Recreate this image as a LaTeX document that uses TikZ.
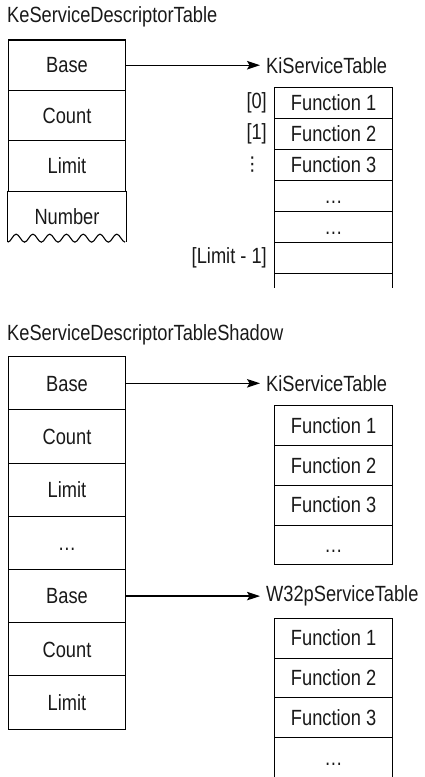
\documentclass[tikz,border=0pt]{standalone}
\usepackage{fontspec}
\setmainfont[FakeStretch=0.83]{Liberation Sans}
\newfontfamily\symfont{DejaVu Sans}
\usepackage{tikz}
\usetikzlibrary{arrows.meta}
\tikzstyle{cell}=[rectangle, draw=black, line width=1.1pt, minimum width=117.4pt, inner sep=0pt, text height=15.5pt, text depth=0pt]
\tikzstyle{desc}=[cell, minimum height=50.4pt]
\tikzstyle{shadow}=[cell, minimum height=53.2pt]
\tikzstyle{entry}=[cell, minimum height=30.9pt]
\tikzstyle{svc}=[cell, minimum height=39.8pt]
\tikzstyle{title}=[anchor=base west, inner sep=0pt]
\tikzstyle{tablename}=[anchor=west, inner xsep=6pt, inner ysep=0pt]
\tikzstyle{index}=[anchor=east, inner sep=0pt]
\tikzstyle{pointer}=[-{Stealth[length=13pt, width=8.5pt, inset=2.5pt]}, line width=1.3pt]

\begin{document}
\begin{tikzpicture}[x=1pt, y=-1pt, font=\fontsize{22}{26}\selectfont, text=black!90]
    \useasboundingbox (0, 0) rectangle (424, 777);

    % KeServiceDescriptorTable
    \node [style=title] (sdt) at (7, 22.7) {KeServiceDescriptorTable};
    \node [style=desc] (base) at (67, 65.2) {Base};
    \node [style=desc] (count) at (67, 115.6) {Count};
    \node [style=desc] (limit) at (67, 166.0) {Limit};
    \node [style=desc, draw=none] (number) at (67, 216.4) {Number};

    \node [style=tablename] (kst) at (260, 65.2) {KiServiceTable};
    \node [style=entry] (f1) at (333.6, 103.1) {Function 1};
    \node [style=entry] (f2) at (333.6, 134.0) {Function 2};
    \node [style=entry] (f3) at (333.6, 164.9) {Function 3};
    \node [style=entry] (f4) at (333.6, 195.8) {\dots};
    \node [style=entry] (f5) at (333.6, 226.7) {\dots};
    \node [style=entry] (f6) at (333.6, 257.6) {};

    \node [style=index] (i0) at (267, 103.1) {[0]};
    \node [style=index] (i1) at (267, 134.0) {[1]};
    \node [style=index, font=\symfont\fontsize{19}{22}\selectfont] (i2) at (262, 164.9) {⋮};
    \node [style=index] (ilast) at (267, 257.6) {[Limit - 1]};

    \draw [line width=1.1pt] (number.north west) -- (number.south west);
    \draw [line width=1.1pt] (number.north east) -- (number.south east);
    \draw [line width=1.1pt] (number.south west) \foreach \i in {1,...,7} {cos ++(4.193, -4) sin ++(4.193, -4) cos ++(4.193, 4) sin ++(4.193, 4)};
    \draw [line width=1.1pt] (f6.south west) -- ++(0, 14);
    \draw [line width=1.1pt] (f6.south east) -- ++(0, 14);
    \draw [style=pointer] (base.east) to (kst.west);

    % KeServiceDescriptorTableShadow
    \node [style=title] (sdts) at (7, 340) {KeServiceDescriptorTableShadow};
    \node [style=shadow] (sbase1) at (67, 383.3) {Base};
    \node [style=shadow] (scount1) at (67, 436.5) {Count};
    \node [style=shadow] (slimit1) at (67, 489.7) {Limit};
    \node [style=shadow] (sgap) at (67, 542.9) {\dots};
    \node [style=shadow] (sbase2) at (67, 596.1) {Base};
    \node [style=shadow] (scount2) at (67, 649.3) {Count};
    \node [style=shadow] (slimit2) at (67, 702.5) {Limit};

    \node [style=tablename] (kst2) at (260, 383.3) {KiServiceTable};
    \node [style=svc] (k1) at (333.6, 425.6) {Function 1};
    \node [style=svc] (k2) at (333.6, 465.4) {Function 2};
    \node [style=svc] (k3) at (333.6, 505.2) {Function 3};
    \node [style=svc] (k4) at (333.6, 545.0) {\dots};

    \node [style=tablename] (w32p) at (260, 596.1) {W32pServiceTable};
    \node [style=svc] (w1) at (333.6, 638.2) {Function 1};
    \node [style=svc] (w2) at (333.6, 678.0) {Function 2};
    \node [style=svc] (w3) at (333.6, 717.8) {Function 3};
    \node [style=svc, draw=none] (w4) at (333.6, 757.6) {\dots};

    \draw [line width=1.1pt] (w4.north west) -- ++(0, 42);
    \draw [line width=1.1pt] (w4.north east) -- ++(0, 42);
    \draw [style=pointer] (sbase1.east) to (kst2.west);
    \draw [style=pointer] (sbase2.east) to (w32p.west);
\end{tikzpicture}
\end{document}
